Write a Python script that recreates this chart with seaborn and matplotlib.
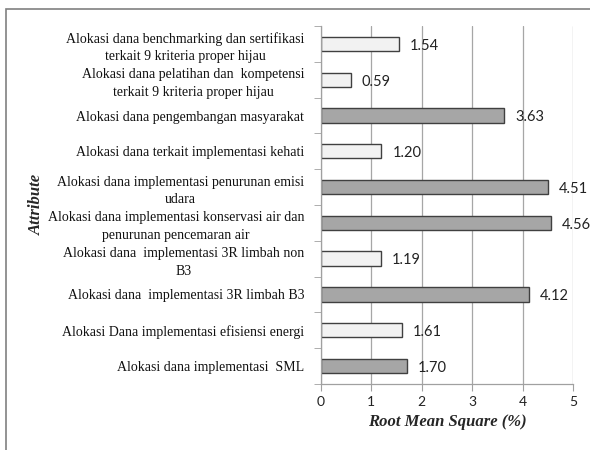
import pandas as pd
import matplotlib.pyplot as plt
import seaborn as sns
from matplotlib.patches import Rectangle
from matplotlib.ticker import FixedLocator

# data, top to bottom
attributes = [
    "Alokasi dana benchmarking dan sertifikasi\nterkait 9 kriteria proper hijau",
    "Alokasi dana pelatihan dan  kompetensi\nterkait 9 kriteria proper hijau",
    "Alokasi dana pengembangan masyarakat",
    "Alokasi dana terkait implementasi kehati",
    "Alokasi dana implementasi penurunan emisi\nudara",
    "Alokasi dana implementasi konservasi air dan\npenurunan pencemaran air",
    "Alokasi dana  implementasi 3R limbah non\nB3",
    "Alokasi dana  implementasi 3R limbah B3",
    "Alokasi Dana implementasi efisiensi energi",
    "Alokasi dana implementasi  SML",
]
rms = [1.54, 0.59, 3.63, 1.20, 4.51, 4.56, 1.19, 4.12, 1.61, 1.70]
group = ["light", "light", "dark", "light", "dark", "dark", "light", "dark", "light", "dark"]

df = pd.DataFrame({"attr": attributes, "rms": rms, "group": group})

sns.set_style("white")
fig = plt.figure(figsize=(5.9, 4.5), dpi=100)
ax = fig.add_axes([0.544, 0.147, 0.427, 0.795])

sns.barplot(data=df, x="rms", y="attr", hue="group", dodge=False,
            palette={"light": "#f2f2f2", "dark": "#a6a6a6"},
            edgecolor="#404040", linewidth=1.0, width=0.4, legend=False, ax=ax)

ax.set_xlim(0, 5)
ax.set_ylim(9.5, -0.5)
ax.set_xticks(range(6))
ax.set_xticklabels([str(i) for i in range(6)], family="Lato", fontsize=10, color="#222222")
ax.grid(axis="x", color="#a6a6a6", linewidth=0.9)
ax.set_axisbelow(True)

ax.set_yticks(range(len(attributes)))
ax.set_yticklabels(attributes, family="Liberation Serif", fontsize=10,
                   multialignment="center", linespacing=1.45, color="#111111")
ax.tick_params(axis="y", length=0, pad=12)
ax.yaxis.set_minor_locator(FixedLocator([i - 0.5 for i in range(len(attributes) + 1)]))
ax.tick_params(axis="y", which="minor", length=5, color="#a0a0a0", left=True)
ax.tick_params(axis="x", length=5, color="#a0a0a0", bottom=True, pad=4)

for s in ["top", "right"]:
    ax.spines[s].set_visible(False)
for s in ["left", "bottom"]:
    ax.spines[s].set_color("#a0a0a0")
    ax.spines[s].set_linewidth(0.9)

for i, v in enumerate(rms):
    ax.text(v + 0.22, i + 0.05, f"{v:.2f}", va="center", ha="left",
            family="Lato", fontsize=10.5, color="#222222")

ax.set_xlabel("Root Mean Square (%)", family="Liberation Serif", fontsize=12,
              fontweight="bold", style="italic", labelpad=4)
fig.text(0.062, 0.545, "Attribute", rotation=90, va="center", ha="center",
         family="Liberation Serif", fontsize=12, fontweight="bold", style="italic")
ax.set_ylabel("")

fig.patches.append(Rectangle((0.011, -0.1), 1.2, 1.081, transform=fig.transFigure,
                             fill=False, edgecolor="#808080", linewidth=1.2))

fig.savefig("out.png", dpi=100)
